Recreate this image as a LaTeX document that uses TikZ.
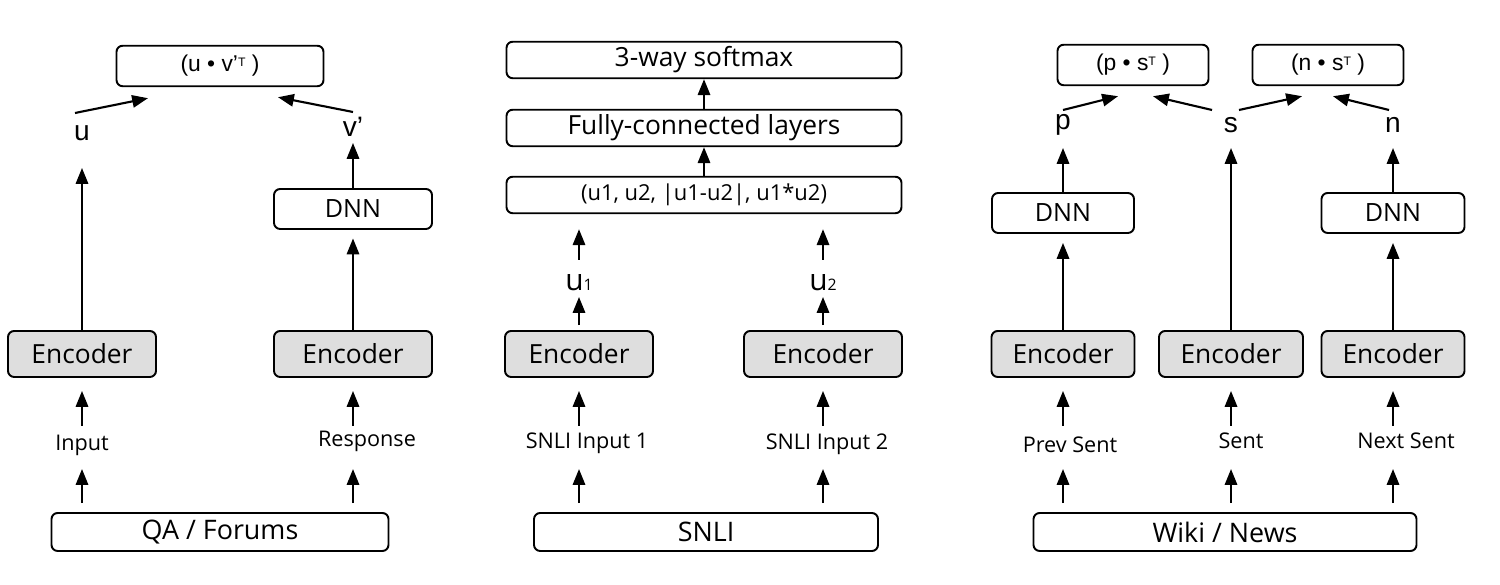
\documentclass[tikz,border=0pt]{standalone}
\usepackage{fontspec}
\setmainfont{Open Sans}
\newfontfamily\arialfont{Liberation Sans}
\usetikzlibrary{arrows.meta,positioning,calc}
\definecolor{encgray}{RGB}{222,222,222}

\begin{document}
\begin{tikzpicture}[
    box/.style={rectangle, draw, line width=1.1pt, rounded corners=3.5pt, inner sep=0pt,
                minimum height=0.78cm, font=\fontsize{15}{17}\selectfont},
    enc/.style={box, fill=encgray, minimum height=0.92cm},
    dnn/.style={box, minimum height=0.80cm, font=\fontsize{14.3}{16}\selectfont},
    stack/.style={box, minimum width=7.90cm, minimum height=0.73cm, font=\fontsize{15}{17}\selectfont},
    src/.style={box, minimum height=0.76cm, font=\fontsize{15.3}{17}\selectfont},
    dot/.style={box, minimum height=0.81cm, font=\arialfont\fontsize{13}{15}\selectfont},
    vec/.style={inner sep=0pt, font=\arialfont\fontsize{16}{18}\selectfont},
    uvec/.style={inner sep=0pt, font=\fontsize{17}{19}\selectfont},
    inp/.style={inner sep=0pt, minimum height=0.72cm, font=\fontsize{12.3}{14}\selectfont},
    arrow/.style={-{Triangle[length=9pt,width=7pt]}, line width=1.2pt}
]
\useasboundingbox (0,0) rectangle (30,11.7);

%% ── QA / Forums ──────────────────────────────────────────────────
\node[src, minimum width=6.74cm] (qa) at (4.40,1.06) {QA / Forums};
\node[enc, minimum width=2.96cm] (encA) at (1.64,4.62) {Encoder};
\node[enc, minimum width=3.16cm] (encB) at (7.06,4.62) {Encoder};
\node[inp] (inA) at (1.64,2.80) {Input};
\node[inp] (inB) at (7.34,2.88) {Response};
\node[dnn, minimum width=3.16cm] (dnnA) at (7.06,7.52) {DNN};
\node[vec] (uA) at (1.64,9.04) {u};
\node[vec] (vA) at (7.06,9.16) {v’};
\node[dot, minimum width=4.14cm] (dotuv) at (4.40,10.38) {(u • v’{\fontsize{7}{8}\selectfont\raisebox{0.9ex}{T}} )};

%% ── SNLI ─────────────────────────────────────────────────────────
\node[src, minimum width=6.88cm] (snli) at (14.12,1.06) {SNLI};
\node[enc, minimum width=2.96cm] (encC) at (11.58,4.62) {Encoder};
\node[enc, minimum width=3.16cm] (encD) at (16.46,4.62) {Encoder};
\node[inp] (inC) at (11.74,2.84) {SNLI Input 1};
\node[inp] (inD) at (16.54,2.82) {SNLI Input 2};
\node[uvec] (uC) at (11.58,6.04) {u{\fontsize{9}{10}\selectfont 1}};
\node[uvec] (uD) at (16.46,6.04) {u{\fontsize{9}{10}\selectfont 2}};
\node[stack, font=\fontsize{12.5}{14}\selectfont] (feat) at (14.08,7.80) {(u1, u2, |u1-u2|, u1*u2)};
\node[stack] (fc) at (14.08,9.14) {Fully-connected layers};
\node[stack] (soft) at (14.08,10.50) {3-way softmax};

%% ── Wiki / News ──────────────────────────────────────────────────
\node[src, minimum width=7.66cm] (wiki) at (24.50,1.06) {Wiki / News};
\node[enc, minimum width=2.86cm] (encE) at (21.26,4.62) {Encoder};
\node[enc, minimum width=2.88cm] (encF) at (24.62,4.62) {Encoder};
\node[enc, minimum width=2.86cm] (encG) at (27.86,4.62) {Encoder};
\node[inp] (inE) at (21.40,2.80) {Prev Sent};
\node[inp] (inF) at (24.82,2.88) {Sent};
\node[inp] (inG) at (28.12,2.88) {Next Sent};
\node[dnn, minimum width=2.84cm] (dnnB) at (21.26,7.44) {DNN};
\node[dnn, minimum width=2.86cm] (dnnC) at (27.86,7.44) {DNN};
\node[vec] (pB) at (21.26,9.20) {p};
\node[vec] (sB) at (24.62,9.20) {s};
\node[vec] (nB) at (27.86,9.20) {n};
\node[dot, minimum width=3.02cm] (pst) at (22.66,10.40) {(p • s{\fontsize{7}{8}\selectfont\raisebox{0.9ex}{T}} )};
\node[dot, minimum width=3.02cm] (nst) at (26.56,10.40) {(n • s{\fontsize{7}{8}\selectfont\raisebox{0.9ex}{T}} )};

%% ── Input arrows ─────────────────────────────────────────────────
\foreach \b/\i/\e in {qa/inA/encA, qa/inB/encB, snli/inC/encC, snli/inD/encD,
                      wiki/inE/encE, wiki/inF/encF, wiki/inG/encG} {
  \draw[arrow, shorten <=0.18cm] (\b.north -| \e) -- ([yshift=0.86cm]\b.north -| \e);
  \draw[arrow, shorten >=0.26cm] ([yshift=-0.96cm]\e.south) -- (\e.south);
}

%% ── Arrows, QA / Forums ──────────────────────────────────────────
\draw[arrow] (encA.north) -- ([yshift=-0.70cm]uA.center);
\draw[arrow, shorten >=0.17cm] (encB.north) -- (dnnA.south);
\draw[arrow] (dnnA.north) -- ([yshift=-0.32cm]vA.center);
\draw[arrow] ([shift={(-0.14,0.40)}]uA.center) -- ([shift={(-1.44,-0.22)}]dotuv.south);
\draw[arrow] ([yshift=0.30cm]vA.center) -- ([shift={(1.16,-0.20)}]dotuv.south);

%% ── Arrows, SNLI ─────────────────────────────────────────────────
\foreach \e/\u in {encC/uC, encD/uD} {
  \draw[arrow, shorten <=0.10cm] (\e.north) -- ([yshift=-0.28cm]\u.center);
  \draw[arrow, shorten >=0.30cm] ([yshift=0.46cm]\u.center) -- (\u |- feat.south);
}
\draw[arrow] (feat) -- (fc);
\draw[arrow] (fc) -- (soft);

%% ── Arrows, Wiki / News ──────────────────────────────────────────
\draw[arrow, shorten >=0.18cm] (encE.north) -- (dnnB.south);
\draw[arrow, shorten >=0.18cm] (encG.north) -- (dnnC.south);
\draw[arrow] (dnnB.north) -- ([yshift=-0.46cm]pB.center);
\draw[arrow] (dnnC.north) -- ([yshift=-0.46cm]nB.center);
\draw[arrow] (encF.north) -- ([yshift=-0.46cm]sB.center);
\draw[arrow] ([yshift=0.30cm]pB.center) -- ([shift={(-0.30,-0.20)}]pst.south);
\draw[arrow] ([shift={(-0.38,0.30)}]sB.center) -- ([shift={(0.40,-0.20)}]pst.south);
\draw[arrow] ([shift={(0.16,0.30)}]sB.center) -- ([shift={(-0.52,-0.20)}]nst.south);
\draw[arrow] ([shift={(-0.08,0.30)}]nB.center) -- ([shift={(0.10,-0.20)}]nst.south);

\end{tikzpicture}
\end{document}
